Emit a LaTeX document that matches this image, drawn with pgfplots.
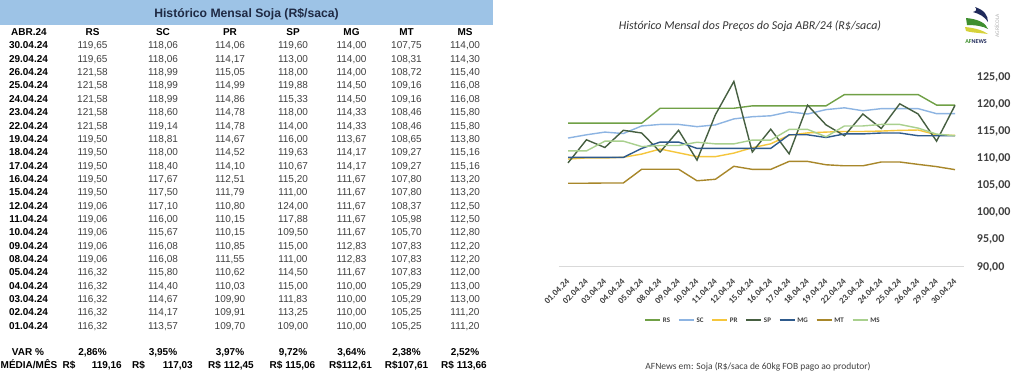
\documentclass[border=0pt]{standalone}
\usepackage{pgfplots}
\pgfplotsset{compat=1.18}
\usepackage{fontspec}
\setmainfont{Liberation Sans}
\newfontfamily\cali{Carlito}
\definecolor{hdr}{HTML}{9DC3E6}
\definecolor{hdrtxt}{HTML}{1F2A44}
\definecolor{valc}{HTML}{404040}
\definecolor{cRS}{HTML}{70A046}
\definecolor{cSC}{HTML}{8DB4E2}
\definecolor{cPR}{HTML}{F5C63C}
\definecolor{cSP}{HTML}{465F41}
\definecolor{cMG}{HTML}{2E5A8C}
\definecolor{cMT}{HTML}{A8872A}
\definecolor{cMS}{HTML}{A9D08E}
\definecolor{lnavy}{HTML}{1F2A5A}
\definecolor{lgreen}{HTML}{3F8F2F}
\definecolor{lyellow}{HTML}{D6D23A}
\newcommand\fs[1]{\fontsize{#1bp}{#1bp}\selectfont}
\newcommand\trow[9]{%
  \node[font=\fs{10}\bfseries] at (28.5,-#1) {#2};
  \node[font=\fs{10},text=valc] at (92.5,-#1) {#3};
  \node[font=\fs{10},text=valc] at (163,-#1) {#4};
  \node[font=\fs{10},text=valc] at (230,-#1) {#5};
  \node[font=\fs{10},text=valc] at (293,-#1) {#6};
  \node[font=\fs{10},text=valc] at (351.5,-#1) {#7};
  \node[font=\fs{10},text=valc] at (406.5,-#1) {#8};
  \node[font=\fs{10},text=valc] at (465,-#1) {#9};
}
\pgfplotstableread{
i RS SC PR SP MG MT MS
0 116.32 113.57 109.70 109.00 110.00 105.25 111.20
1 116.32 114.17 109.91 113.25 110.00 105.25 111.20
2 116.32 114.67 109.90 111.83 110.00 105.29 113.00
3 116.32 114.40 110.03 115.00 110.00 105.29 113.00
4 116.32 115.80 110.62 114.50 111.67 107.83 112.00
5 119.06 116.08 111.55 111.00 112.83 107.83 112.20
6 119.06 116.08 110.85 115.00 112.83 107.83 112.20
7 119.06 115.67 110.15 109.50 111.67 105.70 112.80
8 119.06 116.00 110.15 117.88 111.67 105.98 112.50
9 119.06 117.10 110.80 124.00 111.67 108.37 112.50
10 119.50 117.50 111.79 111.00 111.67 107.80 113.20
11 119.50 117.67 112.51 115.20 111.67 107.80 113.20
12 119.50 118.40 114.10 110.67 114.17 109.27 115.16
13 119.50 118.00 114.52 119.63 114.17 109.27 115.16
14 119.50 118.81 114.67 116.00 113.67 108.65 113.80
15 121.58 119.14 114.78 114.00 114.33 108.46 115.80
16 121.58 118.60 114.78 118.00 114.33 108.46 115.80
17 121.58 118.99 114.86 115.33 114.50 109.16 116.08
18 121.58 118.99 114.99 119.88 114.50 109.16 116.08
19 121.58 118.99 115.05 118.00 114.00 108.72 115.40
20 119.65 118.06 114.17 113.00 114.00 108.31 114.30
21 119.65 118.06 114.06 119.60 114.00 107.75 114.00
}\soja
\begin{document}
\begin{tikzpicture}[x=1bp,y=1bp,every node/.style={inner sep=0pt,text height=7.2bp,text depth=0pt}]
\useasboundingbox (0,0) rectangle (1024,-385);
\fill[white] (0,0) rectangle (1024,-385);
% ---------- table ----------
\fill[hdr] (0,0) rectangle (493,-25);
\node[font=\fs{12.2}\bfseries,text=hdrtxt,text height=8.8bp] at (246.5,-13) {Histórico Mensal Soja (R\$/saca)};
\node[font=\fs{10}\bfseries] at (29,-32.3) {ABR.24};
\foreach \xx/\tt in {92.5/RS,163/SC,230/PR,293/SP,351.5/MG,406.5/MT,465/MS}
  \node[font=\fs{10}\bfseries] at (\xx,-32.3) {\tt};
\trow{45.3}{30.04.24}{119,65}{118,06}{114,06}{119,60}{114,00}{107,75}{114,00}
\trow{58.65}{29.04.24}{119,65}{118,06}{114,17}{113,00}{114,00}{108,31}{114,30}
\trow{72.0}{26.04.24}{121,58}{118,99}{115,05}{118,00}{114,00}{108,72}{115,40}
\trow{85.35}{25.04.24}{121,58}{118,99}{114,99}{119,88}{114,50}{109,16}{116,08}
\trow{98.7}{24.04.24}{121,58}{118,99}{114,86}{115,33}{114,50}{109,16}{116,08}
\trow{112.05}{23.04.24}{121,58}{118,60}{114,78}{118,00}{114,33}{108,46}{115,80}
\trow{125.4}{22.04.24}{121,58}{119,14}{114,78}{114,00}{114,33}{108,46}{115,80}
\trow{138.75}{19.04.24}{119,50}{118,81}{114,67}{116,00}{113,67}{108,65}{113,80}
\trow{152.1}{18.04.24}{119,50}{118,00}{114,52}{119,63}{114,17}{109,27}{115,16}
\trow{165.45}{17.04.24}{119,50}{118,40}{114,10}{110,67}{114,17}{109,27}{115,16}
\trow{178.8}{16.04.24}{119,50}{117,67}{112,51}{115,20}{111,67}{107,80}{113,20}
\trow{192.15}{15.04.24}{119,50}{117,50}{111,79}{111,00}{111,67}{107,80}{113,20}
\trow{205.5}{12.04.24}{119,06}{117,10}{110,80}{124,00}{111,67}{108,37}{112,50}
\trow{218.85}{11.04.24}{119,06}{116,00}{110,15}{117,88}{111,67}{105,98}{112,50}
\trow{232.2}{10.04.24}{119,06}{115,67}{110,15}{109,50}{111,67}{105,70}{112,80}
\trow{245.55}{09.04.24}{119,06}{116,08}{110,85}{115,00}{112,83}{107,83}{112,20}
\trow{258.9}{08.04.24}{119,06}{116,08}{111,55}{111,00}{112,83}{107,83}{112,20}
\trow{272.25}{05.04.24}{116,32}{115,80}{110,62}{114,50}{111,67}{107,83}{112,00}
\trow{285.6}{04.04.24}{116,32}{114,40}{110,03}{115,00}{110,00}{105,29}{113,00}
\trow{298.95}{03.04.24}{116,32}{114,67}{109,90}{111,83}{110,00}{105,29}{113,00}
\trow{312.3}{02.04.24}{116,32}{114,17}{109,91}{113,25}{110,00}{105,25}{111,20}
\trow{325.65}{01.04.24}{116,32}{113,57}{109,70}{109,00}{110,00}{105,25}{111,20}
% VAR row
\begin{scope}[every node/.append style={font=\fs{10}\bfseries}]
\node at (28,-352) {VAR \%};
\node at (92.5,-352) {2,86\%};
\node at (163,-352) {3,95\%};
\node at (230,-352) {3,97\%};
\node at (293,-352) {9,72\%};
\node at (351.5,-352) {3,64\%};
\node at (406.5,-352) {2,38\%};
\node at (465,-352) {2,52\%};
% MEDIA row
\node[anchor=west] at (0.5,-365) {MÉDIA/MÊS};
\node at (69,-365) {R\$};
\node[anchor=east] at (122,-365) {119,16};
\node at (138.5,-365) {R\$};
\node[anchor=east] at (193,-365) {117,03};
\node at (231,-365) {R\$ 112,45};
\node at (292.5,-365) {R\$ 115,06};
\node at (350.5,-365) {R\$112,61};
\node at (406.5,-365) {R\$107,61};
\node at (464,-365) {R\$ 113,66};
\end{scope}
% ---------- chart texts ----------
\node[font=\cali\fs{12}\itshape,text=black!80,text height=8.5bp] at (750,-25) {Histórico Mensal dos Preços do Soja ABR/24 (R\$/saca)};
\node[font=\cali\fs{9.5},text=valc] at (758,-366) {AFNews em: Soja (R\$/saca de 60kg FOB pago ao produtor)};
% logo
\fill[lnavy] (975,-7) .. controls (984,-10) and (988,-15) .. (988,-22) .. controls (985,-17) and (980,-14) .. (973,-12) .. controls (977,-11) and (977,-9) .. (975,-7) -- cycle;
\fill[lgreen] (966,-18) .. controls (978,-19) and (986,-23) .. (988,-29) .. controls (983,-26) and (975,-25) .. (967,-25) -- cycle;
\fill[lyellow] (965,-27) .. controls (976,-28) and (984,-31) .. (988,-34) .. controls (982,-33) and (973,-33) .. (966,-31) -- cycle;
\node[font=\cali\fs{6}\bfseries,text height=4.5bp] at (976,-41) {\textcolor{lgreen}{AF}\textcolor{lnavy}{NEWS}};
\node[font=\cali\fs{5.5},text=gray!60,rotate=90,text height=4bp] at (997,-26) {AGRÍCOLA};
% ---------- axis ----------
\begin{axis}[
  at={(558.8bp,-266bp)}, anchor=south west,
  scale only axis, width=405.4bp, height=190bp,
  xmin=-0.5, xmax=21.5, ymin=90, ymax=125,
  axis x line*=bottom, axis y line*=right,
  x axis line style={draw=black!15, line width=0.8bp},
  y axis line style={draw=none},
  major tick length=0pt,
  xtick={0,...,21},
  xticklabels={01.04.24,02.04.24,03.04.24,04.04.24,05.04.24,08.04.24,09.04.24,10.04.24,11.04.24,12.04.24,15.04.24,16.04.24,17.04.24,18.04.24,19.04.24,22.04.24,23.04.24,24.04.24,25.04.24,26.04.24,29.04.24,30.04.24},
  xticklabel shift=14bp,
  xticklabel style={font=\cali\fs{8.8}\bfseries, text=valc, anchor=east, rotate=45, inner sep=0pt, text height=6bp},
  ytick={90,95,...,125},
  yticklabel style={font=\cali\fs{12}\bfseries, text=valc, anchor=west, inner sep=0pt, xshift=12.5bp, text height=8bp},
  /pgf/number format/.cd, fixed, fixed zerofill, precision=2, use comma, 1000 sep={}, assume math mode=true,
  /pgfplots/.cd,
  clip=false,
  legend columns=7,
  legend style={at={(0.504,-0.284)}, anchor=center, draw=none, fill=none, font=\cali\fs{7}\bfseries, text=valc,
     /tikz/every even column/.append style={column sep=6bp}, inner sep=0pt},
  legend image code/.code={\draw[#1] (0,0) -- (15bp,0);},
  every axis plot/.append style={line width=1.4bp, mark=none},
]
\addplot[cRS] table[x=i,y=RS] {\soja};
\addplot[cSC] table[x=i,y=SC] {\soja};
\addplot[cPR] table[x=i,y=PR] {\soja};
\addplot[cSP] table[x=i,y=SP] {\soja};
\addplot[cMG] table[x=i,y=MG] {\soja};
\addplot[cMT] table[x=i,y=MT] {\soja};
\addplot[cMS] table[x=i,y=MS] {\soja};
\legend{RS,SC,PR,SP,MG,MT,MS}
\end{axis}
\end{tikzpicture}
\end{document}
